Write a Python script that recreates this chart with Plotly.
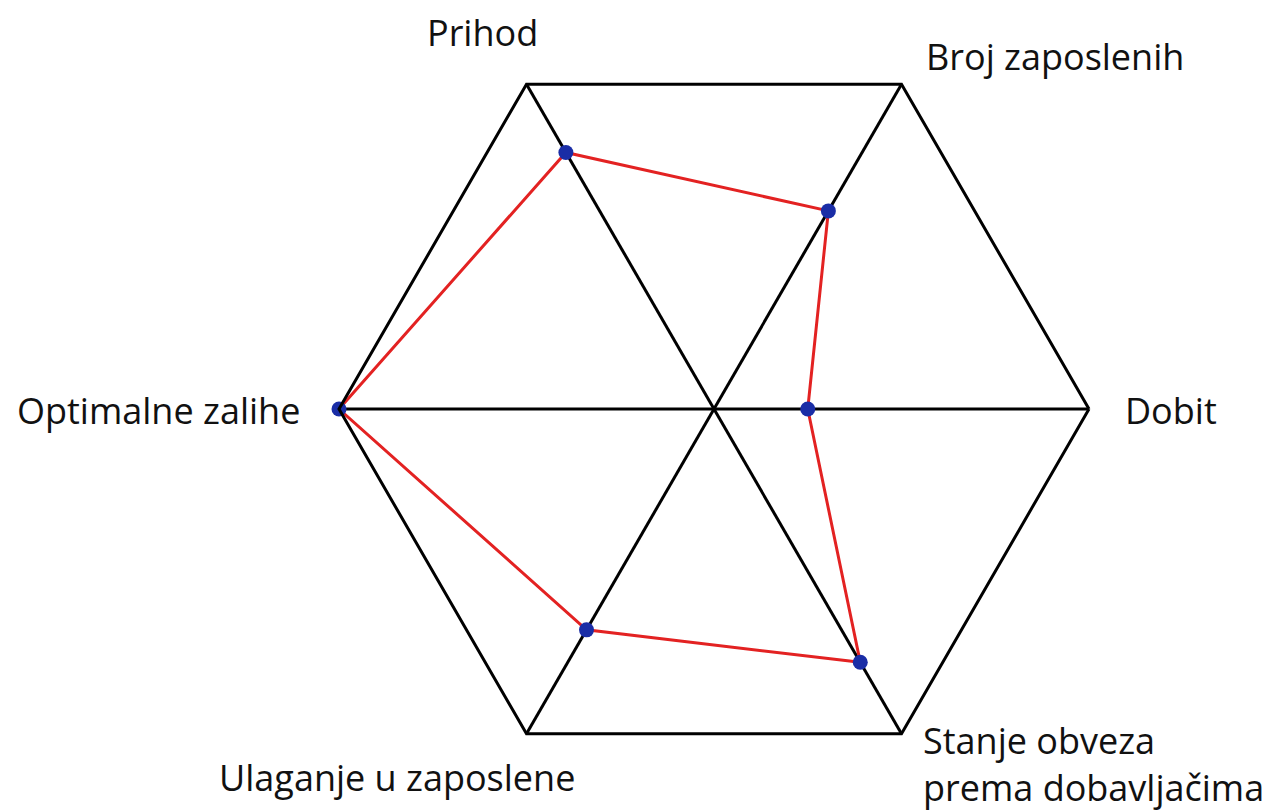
import plotly.graph_objects as go

categories = ["Dobit", "Broj zaposlenih", "Prihod", "Optimalne zalihe",
              "Ulaganje u zaposlene", "Stanje obveza<br>prema dobavljačima"]
values = [0.25, 0.61, 0.79, 1.0, 0.68, 0.78]

theta = categories + [categories[0]]
r = values + [values[0]]

W, H = 1280, 812
OFF = 8  # page body margin offset

fig = go.Figure()
fig.add_trace(go.Scatterpolar(
    r=r, theta=theta, mode="lines",
    line=dict(color="#e32222", width=3),
    hoverinfo="skip", showlegend=False,
))
fig.add_trace(go.Scatterpolar(
    r=values, theta=categories, mode="markers",
    marker=dict(color="#1a2da6", size=15),
    showlegend=False,
))

font = dict(family="Open Sans, sans-serif", size=36, color="#111111")

# label anchor positions in pixels (x, y-centre, xanchor)
label_pos = [
    (1171, 410, "center"),
    (1055, 56, "center"),
    (482, 33, "center"),
    (158, 410, "center"),
    (397, 777, "center"),
    (921, 764, "left"),
]
annotations = []
for cat, (px, py, xa) in zip(categories, label_pos):
    annotations.append(dict(
        text=cat, x=(px - OFF) / W, y=1 - (py - OFF) / H,
        xref="paper", yref="paper", align="left",
        xanchor=xa, yanchor="middle", showarrow=False, font=font,
    ))

cx, cy, R = 714 - OFF, 409 - OFF, 375
fig.update_layout(
    width=W, height=H,
    margin=dict(l=0, r=0, t=0, b=0),
    paper_bgcolor="white", plot_bgcolor="white",
    polar=dict(
        domain=dict(x=[(cx - R) / W, (cx + R) / W],
                    y=[1 - (cy + R) / H, 1 - (cy - R) / H]),
        gridshape="linear",
        bgcolor="white",
        radialaxis=dict(range=[0, 1], visible=False, showgrid=False,
                        showline=False, showticklabels=False),
        angularaxis=dict(
            categoryorder="array", categoryarray=categories,
            rotation=0, direction="counterclockwise",
            showline=True, linecolor="black", linewidth=3,
            showgrid=True, gridcolor="black", gridwidth=3,
            showticklabels=False, ticks="",
        ),
    ),
    annotations=annotations,
)

fig.write_html("out.html")
